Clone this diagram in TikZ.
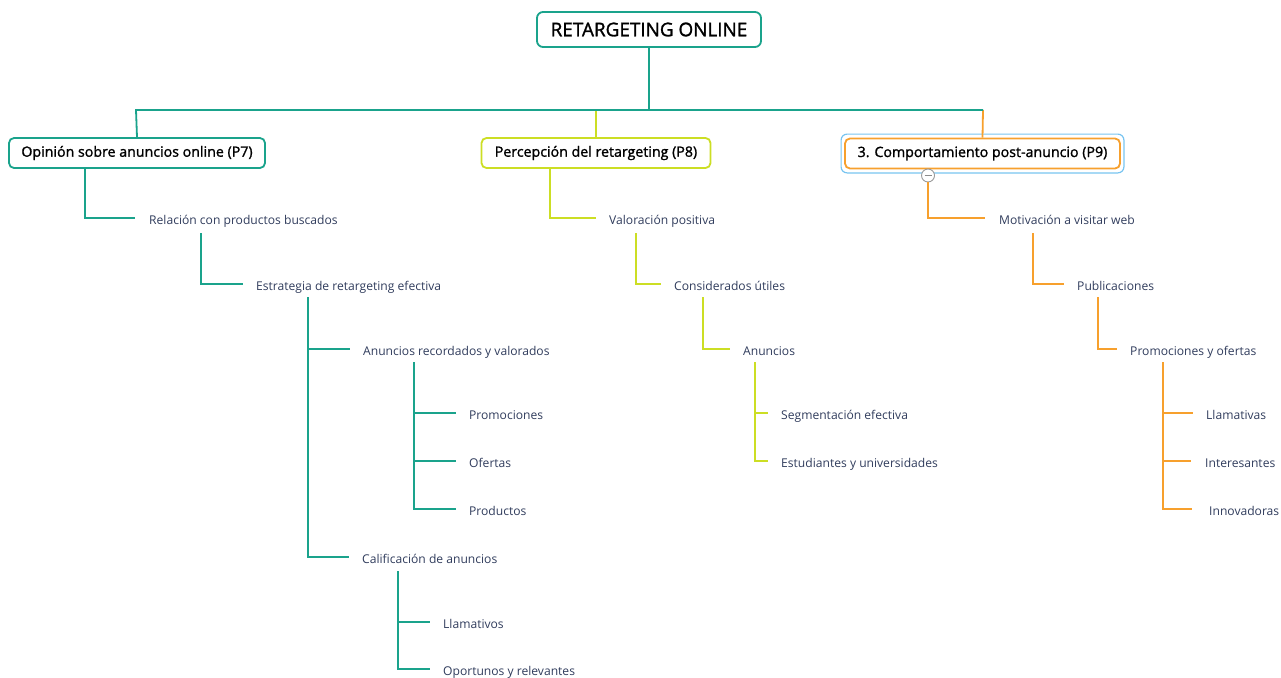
\documentclass[tikz,border=0pt]{standalone}
\usepackage{fontspec}
\setmainfont{Open Sans}
\newfontfamily\headfont[FakeBold=1.4]{Open Sans}
\usetikzlibrary{calc}
\definecolor{tealc}{RGB}{26,163,140}
\definecolor{limec}{RGB}{204,222,36}
\definecolor{orangec}{RGB}{247,160,45}
\definecolor{selc}{RGB}{120,196,240}
\definecolor{leaftext}{RGB}{48,60,92}
\tikzset{
  link/.style={line width=1.8pt},
  c1/.style={link,draw=tealc},
  c2/.style={link,draw=limec},
  c3/.style={link,draw=orangec},
  rootbox/.style={draw=tealc,line width=1.8pt,rounded corners=6pt,fill=white,
    minimum width=224pt,minimum height=35pt,inner sep=0pt,
    font=\headfont\fontsize{18.9}{20}\selectfont,text=black},
  topic/.style={line width=1.8pt,rounded corners=5pt,fill=white,
    minimum height=30pt,inner sep=0pt,
    font=\headfont\fontsize{14.2}{16}\selectfont,text=black},
  leaf/.style={anchor=west,inner sep=0pt,text=leaftext,
    text height=13pt,text depth=0pt,
    font=\fontsize{12.1}{14}\selectfont},
}
\begin{document}
\begin{tikzpicture}[x=1pt,y=-1pt]
\useasboundingbox (0,0) rectangle (1281,677);

% root and first-level topics
\node[rootbox] (root) at (649,29.5) {RETARGETING ONLINE};
\node[topic,draw=tealc,minimum width=256pt] (op) at (137,153) {Opinión sobre anuncios online (P7)};
\node[topic,draw=limec,minimum width=229pt] (perc) at (596,153) {Percepción del retargeting (P8)};
\node[topic,draw=orangec,minimum width=275pt] (comp) at (982.5,153.5) {3. Comportamiento post-anuncio (P9)};
\draw[selc,line width=1.2pt,rounded corners=6pt]
  ($(comp.south west)+(-3,3.5)$) rectangle ($(comp.north east)+(3,-3.5)$);

% main bus
\coordinate (busL) at (136,110);
\coordinate (busR) at (983,110);
\draw[c2] (perc.north |- busL) -- (perc.north);
\draw[c3] (busR) -- (comp.north);
\draw[c1] (root.south) -- (root.south |- busL);
\draw[c1] (op.north) -- (busL) -- (busR);

% ---- teal branch
\node[leaf] (rel) at (149,218) {Relación con productos buscados};
\node[leaf] (est) at (256,284) {Estrategia de retargeting efectiva};
\node[leaf] (anr) at (363,349) {Anuncios recordados y valorados};
\node[leaf] (pro) at (469,413) {Promociones};
\node[leaf] (ofe) at (469,461) {Ofertas};
\node[leaf] (prd) at (469,509) {Productos};
\node[leaf] (cal) at (362,557) {Calificación de anuncios};
\node[leaf] (lla) at (443,622) {Llamativos};
\node[leaf] (opo) at (443,669) {Oportunos y relevantes};

\draw[c1] (op.south -| 85,0) |- ([xshift=-14pt]rel.west);
\draw[c1] ([yshift=-15pt]rel.center -| 201,0) |- ([xshift=-13pt]est.west);
\draw[c1] ([yshift=-13pt]est.center -| 308,0) |- ([xshift=-13pt]anr.west);
\draw[c1] ([yshift=-13pt]est.center -| 308,0) |- ([xshift=-13pt]cal.west);
\draw[c1] ([yshift=-13pt]anr.center -| 414,0) |- ([xshift=-13pt]pro.west);
\draw[c1] ([yshift=-13pt]anr.center -| 414,0) |- ([xshift=-13pt]ofe.west);
\draw[c1] ([yshift=-13pt]anr.center -| 414,0) |- ([xshift=-13pt]prd.west);
\draw[c1] ([yshift=-14pt]cal.center -| 398,0) |- ([xshift=-13pt]lla.west);
\draw[c1] ([yshift=-14pt]cal.center -| 398,0) |- ([xshift=-13pt]opo.west);

% ---- lime branch
\node[leaf] (val) at (609,218) {Valoración positiva};
\node[leaf] (con) at (674,284) {Considerados útiles};
\node[leaf] (anu) at (743,349) {Anuncios};
\node[leaf] (seg) at (781,413) {Segmentación efectiva};
\node[leaf] (estu) at (781,461) {Estudiantes y universidades};

\draw[c2] (perc.south -| 550,0) |- ([xshift=-13pt]val.west);
\draw[c2] ([yshift=-15pt]val.center -| 636,0) |- ([xshift=-13pt]con.west);
\draw[c2] ([yshift=-13pt]con.center -| 703,0) |- ([xshift=-13pt]anu.west);
\draw[c2] ([yshift=-13pt]anu.center -| 755,0) |- ([xshift=-13pt]seg.west);
\draw[c2] ([yshift=-13pt]anu.center -| 755,0) |- ([xshift=-13pt]estu.west);

% ---- orange branch
\node[leaf] (mot) at (999,218) {Motivación a visitar web};
\node[leaf] (pub) at (1077,284) {Publicaciones};
\node[leaf] (pyo) at (1130,349) {Promociones y ofertas};
\node[leaf] (llv) at (1206,413) {Llamativas};
\node[leaf] (int) at (1205,461) {Interesantes};
\node[leaf] (inn) at (1209,509) {Innovadoras};

\node[circle,draw=gray!80,fill=white,line width=0.9pt,minimum size=13pt,inner sep=0pt] (tog) at (928,175.5) {};
\draw[gray!90,line width=0.9pt] ([xshift=-3.5pt]tog.center) -- ([xshift=3.5pt]tog.center);

\draw[c3] (tog.south) |- ([xshift=-14pt]mot.west);
\draw[c3] ([yshift=-15pt]mot.center -| 1033,0) |- ([xshift=-13pt]pub.west);
\draw[c3] ([yshift=-13pt]pub.center -| 1098,0) |- ([xshift=-13pt]pyo.west);
\draw[c3] ([yshift=-13pt]pyo.center -| 1163,0) |- ([xshift=-13pt]llv.west);
\draw[c3] ([yshift=-13pt]pyo.center -| 1163,0) |- ([xshift=-14pt]int.west);
\draw[c3] ([yshift=-13pt]pyo.center -| 1163,0) |- ([xshift=-17pt]inn.west);
\end{tikzpicture}
\end{document}
